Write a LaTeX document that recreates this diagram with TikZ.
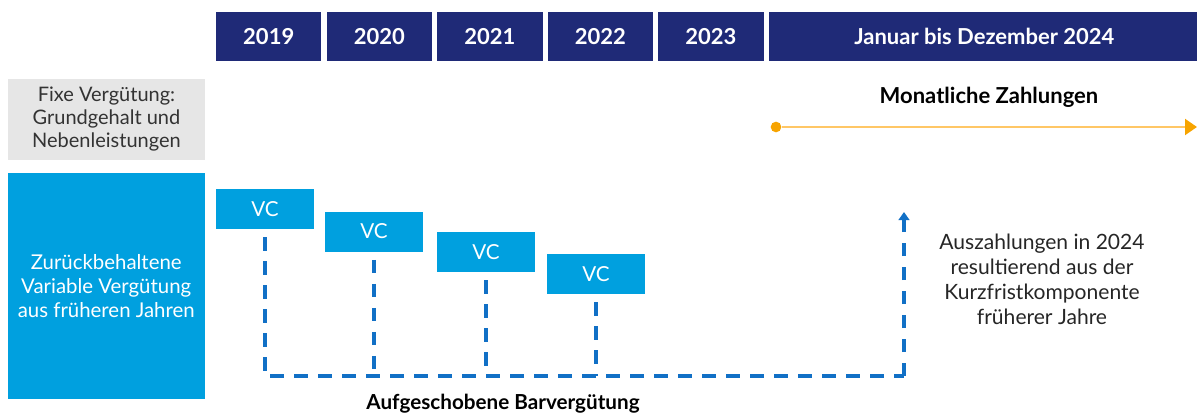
\documentclass[tikz,border=0pt]{standalone}
\usepackage{fontspec}
\setmainfont{Lato}
\usepackage{tikz}
\usetikzlibrary{positioning,arrows.meta}

\definecolor{navy}{HTML}{1F2A77}
\definecolor{cyan}{HTML}{00A0DF}
\definecolor{deepblue}{HTML}{1170C6}
\definecolor{lightgrey}{HTML}{E6E6E6}
\definecolor{darkorange}{HTML}{F7A400}
\definecolor{lightorange}{HTML}{FFC766}

\tikzset{
  year/.style = {fill=navy, text=white, inner sep=0pt,
    minimum width=79.1pt, minimum height=36.75pt,
    font=\bfseries\fontsize{16.5}{18}\selectfont},
  vc/.style = {fill=cyan, text=white, inner sep=0pt,
    minimum width=73.5pt, minimum height=30pt,
    font=\fontsize{15.5}{17}\selectfont},
  sidebox/.style = {inner sep=0pt, align=center,
    minimum width=147.5pt},
  deferred/.style = {draw=deepblue, line width=3pt, dash pattern=on 10pt off 8pt},
  label/.style = {font=\bfseries\fontsize{15.5}{18}\selectfont, text=black},
}

\begin{document}
\begin{tikzpicture}[x=0.75pt, y=-0.75pt, node distance=3.4pt]
   \useasboundingbox (0,0) rectangle (1197,414);

   % timeline header
   \node[year] (y19) at (268.75,36.5) {2019};
   \node[year] (y20) [right = of y19] {2020};
   \node[year] (y21) [right = of y20] {2021};
   \node[year] (y22) [right = of y21] {2022};
   \node[year] (y23) [right = of y22] {2023};
   \node[year, minimum width=323.5pt] (y24) [right = of y23] {Januar bis Dezember 2024};

   % left column
   \node[sidebox, fill=lightgrey, text=black!80, minimum height=60.75pt,
         font=\fontsize{15}{17.25}\selectfont] (fix)
      at (106.5,119.5) {Fixe Vergütung:\\Grundgehalt und\\Nebenleistungen};
   \node[sidebox, fill=cyan, text=white, minimum height=169.5pt,
         font=\fontsize{15.3}{18}\selectfont] (var)
      at (106.25,286) {Zurückbehaltene\\Variable Vergütung\\aus früheren Jahren};

   % monthly payments
   \node[label, font=\bfseries\fontsize{16.5}{18}\selectfont] (monthly) at (989,97) {Monatliche Zahlungen};
   \node[circle, fill=darkorange, inner sep=0pt, minimum size=8pt] (m_start) at (776,127) {};
   \coordinate (m_end) at (1197,127);
   \draw[lightorange, line width=1.6pt, -{Triangle[length=9pt, width=12pt, color=darkorange]}]
      (m_start) -- (m_end);

   % deferred variable pay
   \node[vc] (vc1) at (265,209) {VC};
   \node[vc] (vc2) at (374,231.5) {VC};
   \node[vc] (vc3) at (486,252) {VC};
   \node[vc] (vc4) at (596,274) {VC};

   \coordinate (base) at (268,376);
   \coordinate (payout) at (904,376);
   \coordinate (top) at (904,212);

   \draw[deferred] ([yshift=-6pt]vc1.south) |- (payout);
   \draw[deferred] ([yshift=-6pt]vc2.south) -- (vc2.south |- base);
   \draw[deferred] ([yshift=-6pt]vc3.south) -- (vc3.south |- base);
   \draw[deferred] ([yshift=-6pt]vc4.south) -- (vc4.south |- base);
   \draw[deferred, -{Triangle[length=6pt, width=8pt]}] (payout) -- (top);

   \node[label] (deferred_lbl) at (503,404) {Aufgeschobene Barvergütung};
   \node[align=center, text=black!85, font=\fontsize{15.8}{18.75}\selectfont] (payout_lbl)
      at (1042,279) {Auszahlungen in 2024\\resultierend aus der\\Kurzfristkomponente\\früherer Jahre};
\end{tikzpicture}
\end{document}
